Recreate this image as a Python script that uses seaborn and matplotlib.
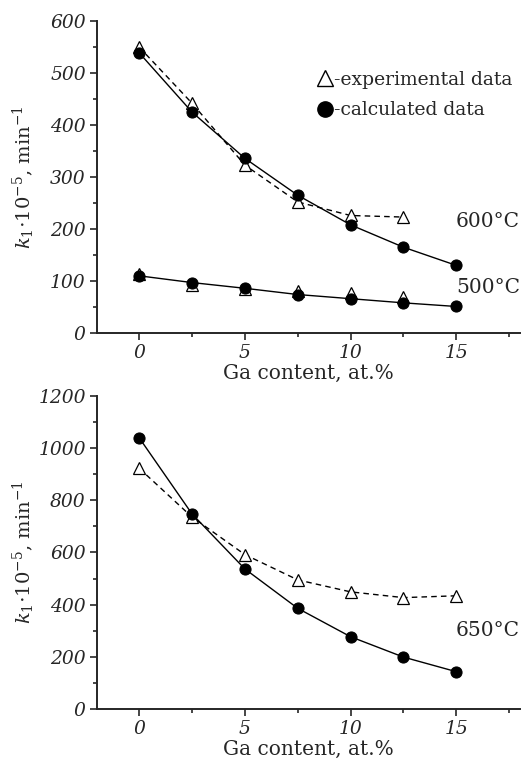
import numpy as np
import pandas as pd
import seaborn as sns
import matplotlib.pyplot as plt
from matplotlib.lines import Line2D
from matplotlib.ticker import MultipleLocator

# Ga content, at.%
ga = [0, 2.5, 5, 7.5, 10, 12.5, 15]

# 600 °C
exp_600 = [550, 442, 323, 252, 226, 223]          # no point at 15
calc_600 = [539, 425, 336, 265, 208, 165, 130]

# 500 °C
exp_500 = [114, 92, 84, 81, 77, 69]
calc_500 = [110, 97, 86, 74, 66, 58, 51]

# 650 °C
exp_650 = [923, 736, 592, 495, 449, 427, 434]
calc_650 = [1040, 748, 537, 386, 277, 199, 143]

sns.set_style("ticks")
plt.rcParams["font.family"] = ["DejaVu Serif"]
plt.rcParams["mathtext.fontset"] = "dejavuserif"

fig = plt.figure(figsize=(5.32, 7.65), dpi=100)
ax1 = fig.add_axes([0.182, 0.5647, 0.795, 0.4078])
ax2 = fig.add_axes([0.182, 0.0732, 0.795, 0.4092])

tri = dict(marker="^", markerfacecolor="white", markeredgecolor="black",
           markersize=9, markeredgewidth=0.9)
dot = dict(marker="o", markerfacecolor="black", markeredgecolor="black",
           markersize=8)

def draw(ax, x_exp, y_exp, y_calc, exp_line=True):
    if exp_line:
        sns.lineplot(x=x_exp, y=y_exp, ax=ax, color="black", lw=1,
                     linestyle=(0, (4, 3)), zorder=2, **tri)
    else:
        sns.lineplot(x=x_exp, y=y_exp, ax=ax, color="black", lw=0,
                     zorder=2, **tri)
    sns.lineplot(x=ga, y=y_calc, ax=ax, color="black", lw=1, zorder=3, **dot)

draw(ax1, ga[:6], exp_600, calc_600)
draw(ax1, ga[:6], exp_500, calc_500, exp_line=False)
draw(ax2, ga, exp_650, calc_650)

ylabel = r"$k_1{\cdot}10^{-5}$, min$^{-1}$"
for ax, ymax, major, minor in [(ax1, 600, 100, 50), (ax2, 1200, 200, 100)]:
    ax.set_xlim(-2, 18)
    ax.set_ylim(0, ymax)
    ax.xaxis.set_major_locator(MultipleLocator(5))
    ax.xaxis.set_minor_locator(MultipleLocator(2.5))
    ax.yaxis.set_major_locator(MultipleLocator(major))
    ax.yaxis.set_minor_locator(MultipleLocator(minor))
    ax.tick_params(which="major", direction="out", length=5, width=1.2,
                   labelsize=13.5, pad=3)
    ax.tick_params(which="minor", direction="out", length=3, width=1.2)
    for lab in ax.get_xticklabels() + ax.get_yticklabels():
        lab.set_fontstyle("italic")
    sns.despine(ax=ax)
    for s in ("left", "bottom"):
        ax.spines[s].set_linewidth(1.4)
    ax.set_xlabel("Ga content, at.%", fontsize=14.5, labelpad=1)
    ax.set_ylabel(ylabel, fontsize=14, va="center")
    ax.yaxis.set_label_coords(-0.172, 0.5)

ax1.text(1.0, 214, "600°C", transform=ax1.get_yaxis_transform(),
         ha="right", va="center", fontsize=14.5)
ax1.text(1.0, 88, "500°C", transform=ax1.get_yaxis_transform(),
         ha="right", va="center", fontsize=14.5)
ax2.text(1.0, 300, "650°C", transform=ax2.get_yaxis_transform(),
         ha="right", va="center", fontsize=14.5)

handles = [
    Line2D([], [], linestyle="none", color="black", marker="^",
           markerfacecolor="white", markersize=12, markeredgewidth=1),
    Line2D([], [], linestyle="none", color="black", marker="o", markersize=11),
]
ax1.legend(handles, ["-experimental data", "-calculated data"],
           loc="upper left", bbox_to_anchor=(0.5, 0.87), frameon=False,
           fontsize=13.5, handlelength=0.8, handletextpad=0.05,
           labelspacing=0.65, borderpad=0)

fig.savefig("out.png", dpi=100)
